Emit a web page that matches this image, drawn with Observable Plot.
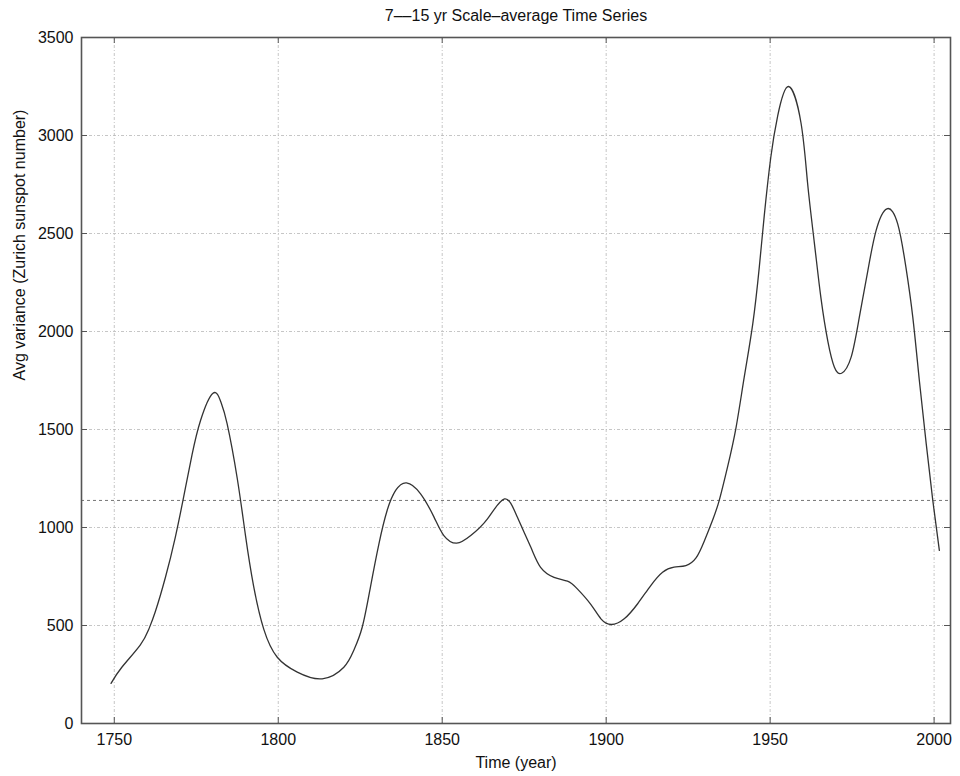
<!DOCTYPE html>
<html>
<head>
<meta charset="utf-8">
<script src="https://cdn.jsdelivr.net/npm/d3@7"></script>
<script src="https://cdn.jsdelivr.net/npm/@observablehq/plot@0.6"></script>
<style>
  html, body { margin: 0; padding: 0; background: #fff; }
</style>
</head>
<body>
<div id="chart"></div>
<script>
const titleText = "7\u2013\u201315 yr Scale\u2013average Time Series";
const xLabel = "Time (year)";
const yLabel = "Avg variance (Zurich sunspot number)";
const xTicks = [1750, 1800, 1850, 1900, 1950, 2000];
const yTicks = [0, 500, 1000, 1500, 2000, 2500, 3000, 3500];
const significance = 1138;

const years = [
  1749.0, 1752.3, 1757.9, 1760.5, 1762.5, 1765.6, 1768.6, 1771.2, 1773.7, 1776.3,
  1780.1, 1782.5, 1784.4, 1787.5, 1790.0, 1792.5, 1795.6, 1799.7, 1805.8, 1813.4, 1820.0,
  1823.0, 1825.6, 1828.1, 1830.7, 1833.2, 1835.8, 1839.1, 1843.4, 1847.5, 1850.5,
  1854.4, 1858.7, 1863.8, 1869.0, 1872.9, 1877.0, 1880.0, 1884.1, 1888.2, 1891.2,
  1895.3, 1898.4, 1901.6, 1905.5, 1909.6, 1913.6, 1917.2, 1920.7, 1924.3, 1927.4,
  1929.9, 1932.5, 1934.5, 1937.0, 1939.6, 1942.1, 1944.7, 1946.7, 1948.2, 1950.2,
  1952.3, 1955.6, 1959.4, 1961.4, 1963.5, 1965.5, 1967.6, 1969.6, 1971.8, 1974.7,
  1977.2, 1979.8, 1982.3, 1985.6, 1988.9, 1991.4, 1993.5, 1995.5, 1997.6, 1999.6,
  2001.6
];
const variance = [
  205, 287, 400, 480, 570, 746, 950, 1160, 1370, 1546,
  1685, 1640, 1530, 1250, 960, 700, 480, 338, 262, 228, 287,
  372, 491, 695, 917, 1087, 1189, 1228, 1172, 1053, 959,
  920, 959, 1044, 1146, 1053, 900, 797, 746, 726, 687,
  608, 534, 505, 534, 611, 704, 772, 798, 806, 845,
  930, 1040, 1140, 1308, 1510, 1767, 2039, 2330, 2590, 2889,
  3100, 3250, 3065, 2760, 2450, 2170, 1950, 1818, 1787, 1869,
  2073, 2311, 2515, 2626, 2549, 2328, 2073, 1750, 1427, 1138,
  883
];

const series = years.map((y, i) => ({year: y, value: variance[i]}));

const W = 960, H = 776;
const mL = 81, mR = 10, mT = 37, mB = 53;
const fw = W - mL - mR, fh = H - mT - mB;
const tickLen = 6;
const gridStyle = {stroke: "#b8b8b8", strokeOpacity: 1, strokeWidth: 0.8, strokeDasharray: "3,2,1,2"};
const axisColor = "#555";

const chart = Plot.plot({
  width: W,
  height: H,
  marginLeft: mL,
  marginRight: mR,
  marginTop: mT,
  marginBottom: mB,
  style: {fontFamily: "'Liberation Sans', Arial, Helvetica, sans-serif", fontSize: "16px", color: "#111", background: "#fff"},
  x: {domain: [1740, 2005], ticks: xTicks, label: null},
  y: {domain: [0, 3500], ticks: yTicks, label: null},
  marks: [
    Plot.gridX(xTicks, gridStyle),
    Plot.gridY(yTicks, gridStyle),
    Plot.ruleY([significance], {stroke: "#666", strokeWidth: 0.9, strokeDasharray: "3,3"}),
    Plot.line(series, {x: "year", y: "value", stroke: "#333", strokeWidth: 1.3, curve: "natural"}),
    // inward ticks on all four sides
    Plot.ruleX(xTicks, {stroke: axisColor, strokeWidth: 1, insetTop: fh - tickLen}),
    Plot.ruleX(xTicks, {stroke: axisColor, strokeWidth: 1, insetBottom: fh - tickLen}),
    Plot.ruleY(yTicks, {stroke: axisColor, strokeWidth: 1, insetRight: fw - tickLen}),
    Plot.ruleY(yTicks, {stroke: axisColor, strokeWidth: 1, insetLeft: fw - tickLen}),
    Plot.frame({stroke: axisColor, strokeWidth: 1.6}),
    Plot.axisX(xTicks, {anchor: "bottom", tickSize: 0, tickPadding: 10, fill: "#111", label: null, tickFormat: d => String(d)}),
    Plot.axisY(yTicks, {anchor: "left", tickSize: 0, tickPadding: 8, fill: "#111", label: null, tickFormat: d => String(d)}),
    Plot.text([titleText], {frameAnchor: "top", dy: -17, lineAnchor: "bottom", fill: "#111", fontSize: 16}),
    Plot.text([xLabel], {frameAnchor: "bottom", dy: 33, lineAnchor: "top", fill: "#111", fontSize: 16}),
    Plot.text([yLabel], {frameAnchor: "left", dx: -62, rotate: -90, fill: "#111", fontSize: 16})
  ]
});

document.getElementById("chart").appendChild(chart);
</script>
</body>
</html>
